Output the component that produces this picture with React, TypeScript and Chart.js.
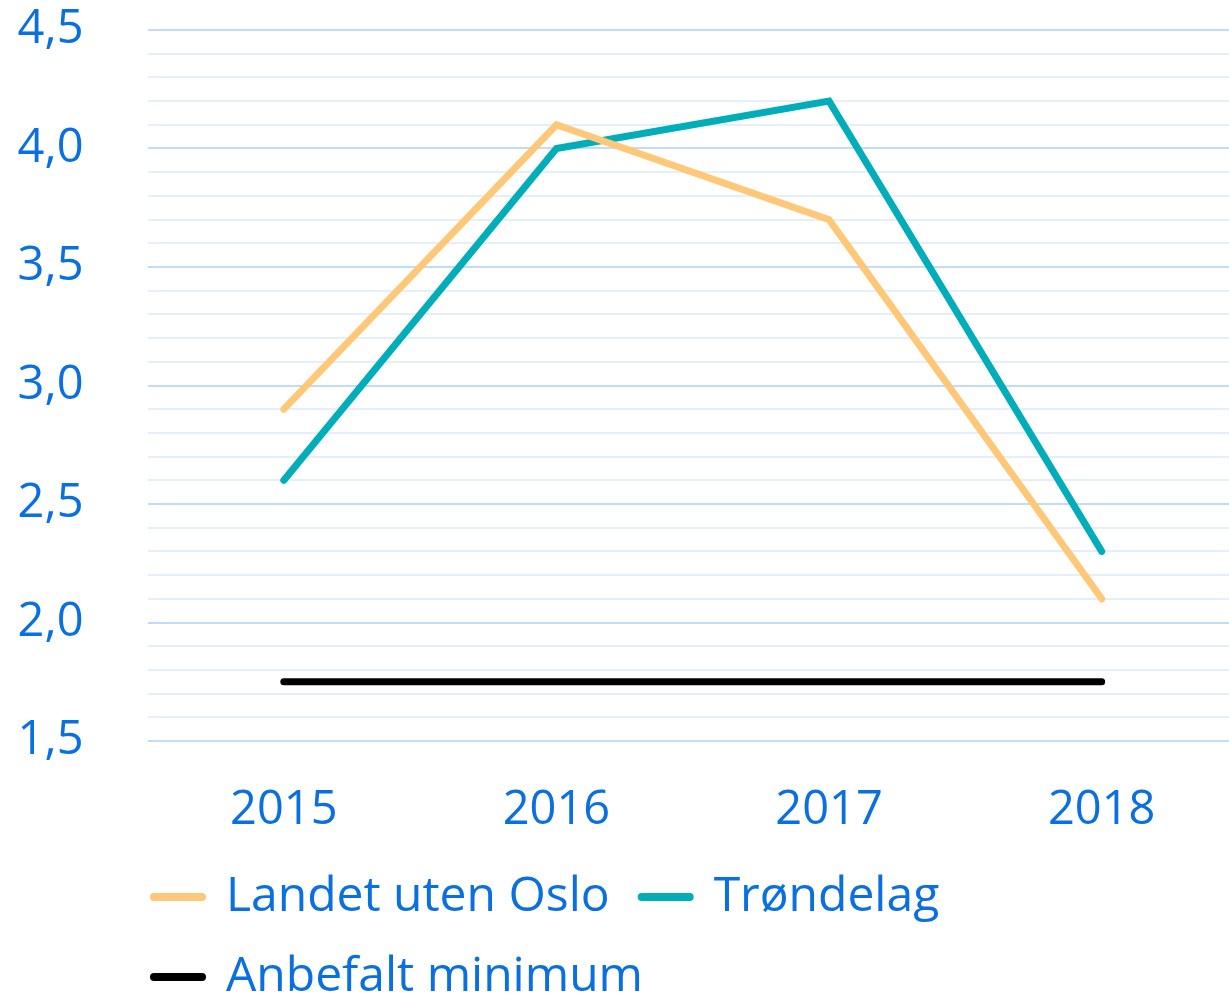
import React, { useEffect, useRef } from "react";
import { Chart, registerables } from "chart.js";

Chart.register(...registerables);

const years = ["2015", "2016", "2017", "2018"];
const landetUtenOslo = [2.9, 4.1, 3.7, 2.1];
const trondelag = [2.6, 4.0, 4.2, 2.3];
const anbefaltMinimum = [1.75, 1.75, 1.75, 1.75];
const seriesNames = ["Landet uten Oslo", "Trøndelag", "Anbefalt minimum"];
const yMin = 1.5;
const yMax = 4.5;
const yStep = 0.1;
const yLabelStep = 0.5;

const BLUE = "#0a6fe0";
const FONT = "'Open Sans', 'Noto Sans', sans-serif";

const isMajor = (v: number) => {
  const r = v / yLabelStep;
  return Math.abs(r - Math.round(r)) < 1e-6;
};

const legendShift = {
  id: "legendShift",
  afterLayout(chart: any) {
    const l = chart.legend;
    if (l) {
      const w = l.right - l.left;
      l.left = 122;
      l.right = 122 + w;
    }
  },
};

export default function App() {
  const ref = useRef<HTMLCanvasElement>(null);

  useEffect(() => {
    if (!ref.current) return;
    const lineDs = (label: string, data: number[], color: string) => ({
      label,
      data,
      borderColor: color,
      backgroundColor: color,
      borderWidth: 7,
      borderCapStyle: "round",
      borderJoinStyle: "miter",
      pointRadius: 0,
      pointHoverRadius: 0,
      tension: 0,
    });
    const chart = new Chart(ref.current, {
      type: "line",
      data: {
        labels: years,
        datasets: [
          lineDs(seriesNames[0], landetUtenOslo, "#ffc878"),
          lineDs(seriesNames[1], trondelag, "#00adb9"),
          lineDs(seriesNames[2], anbefaltMinimum, "#000000"),
        ],
      },
      options: {
        responsive: false,
        animation: false,
        devicePixelRatio: 1,
        layout: { padding: { top: 30, left: 0, right: 0, bottom: 0 } },
        scales: {
          x: {
            offset: true,
            grid: { display: false, drawTicks: false },
            border: { display: false },
            ticks: {
              color: BLUE,
              font: { family: FONT, size: 47 },
              padding: 41,
              maxRotation: 0,
            },
            afterFit: (s: any) => {
              s.height = 100;
            },
          },
          y: {
            min: yMin,
            max: yMax,
            border: { display: false },
            grid: {
              drawTicks: false,
              lineWidth: 2,
              color: (ctx: any) =>
                ctx.tick && isMajor(ctx.tick.value) ? "#c2dbf7" : "#e5effb",
            },
            ticks: {
              stepSize: yStep,
              autoSkip: false,
              color: BLUE,
              font: { family: FONT, size: 47 },
              padding: 64,
              callback: (v: any) => {
                const n = Number(v);
                return isMajor(n) ? n.toFixed(1).replace(".", ",") : "";
              },
            },
            afterFit: (s: any) => {
              s.width = 147.5;
              s.paddingTop = 0;
              s.paddingBottom = 0;
            },
          },
        },
        plugins: {
          tooltip: { enabled: false },
          legend: {
            position: "bottom",
            align: "start",
            labels: {
              color: BLUE,
              font: { family: FONT, size: 48 },
              usePointStyle: true,
              pointStyle: "line",
              pointStyleWidth: 48,
              padding: 32,
              generateLabels: (c: any) =>
                (Chart.defaults.plugins.legend.labels as any)
                  .generateLabels(c)
                  .map((l: any) => ({
                    ...l,
                    lineWidth: 8,
                    lineCap: "round",
                    pointStyle: "line",
                  })),
            },
          },
        },
      },
      plugins: [legendShift],
    } as any);
    return () => chart.destroy();
  }, []);

  return (
    <div
      style={{
        position: "absolute",
        left: 0,
        top: 0,
        width: 1229,
        height: 998,
        overflow: "hidden",
        background: "#fff",
      }}
    >
      <canvas
        ref={ref}
        width={1238}
        height={1011}
        style={{ display: "block", width: 1238, height: 1011 }}
      />
    </div>
  );
}
